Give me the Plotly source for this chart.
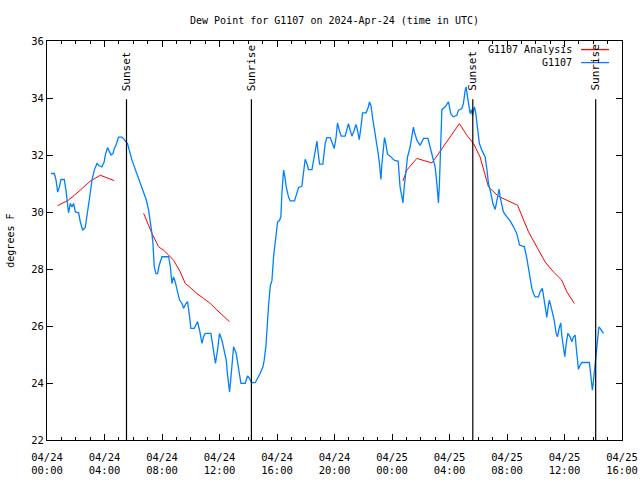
import pandas as pd
import plotly.graph_objects as go

base = pd.Timestamp("2024-04-24 00:00")

obs_hours = [0.28, 0.51, 0.63, 0.74, 0.86, 0.97, 1.20, 1.32, 1.50, 1.62, 1.74, 1.85, 1.97, 2.20, 2.32, 2.48, 2.66, 2.78, 2.94, 3.13,
             3.29, 3.48, 3.59, 3.82, 3.98, 4.05, 4.21, 4.35, 4.45, 4.59, 4.68, 4.82, 4.91, 4.98, 5.22, 5.38, 5.60, 5.91, 6.26, 6.61,
             6.91, 7.07, 7.18, 7.30, 7.37, 7.46, 7.58, 7.69, 7.81, 8.00, 8.46, 8.58, 8.69, 8.80, 8.92, 9.04, 9.22, 9.39, 9.50, 9.67,
             9.78, 9.92, 10.01, 10.24, 10.38, 10.47, 10.61, 10.78, 10.89, 11.01, 11.40, 11.54, 11.63, 11.72, 11.86, 12.00, 12.17, 12.33, 12.47, 12.56,
             12.70, 12.80, 12.89, 12.98, 13.16, 13.28, 13.39, 13.49, 13.79, 13.95, 14.09, 14.23, 14.49, 14.65, 14.83, 15.02, 15.11, 15.23, 15.30, 15.41,
             15.53, 15.65, 15.76, 15.88, 15.97, 16.04, 16.18, 16.27, 16.34, 16.46, 16.55, 16.64, 16.80, 16.92, 17.22, 17.34, 17.50, 17.73, 17.84, 17.96,
             18.08, 18.19, 18.43, 18.54, 18.66, 18.78, 18.85, 18.96, 19.19, 19.35, 19.47, 19.70, 19.86, 19.98, 20.10, 20.21, 20.33, 20.47, 20.74, 20.86,
             20.97, 21.09, 21.21, 21.37, 21.49, 21.60, 21.72, 21.84, 21.95, 22.20, 22.36, 22.43, 22.53, 22.67, 22.78, 22.90, 23.02, 23.13, 23.23, 23.30,
             23.37, 23.48, 23.57, 23.69, 23.87, 24.15, 24.43, 24.52, 24.56, 24.69, 24.76, 24.85, 24.97, 25.08, 25.26, 25.38, 25.49, 25.56, 25.73, 25.96,
             26.08, 26.19, 26.50, 26.66, 26.84, 27.00, 27.12, 27.19, 27.23, 27.30, 27.40, 27.47, 27.70, 27.86, 27.93, 28.09, 28.27, 28.51, 28.62, 28.86,
             28.97, 29.09, 29.16, 29.25, 29.32, 29.44, 29.53, 29.60, 29.67, 29.74, 29.83, 29.95, 30.08, 30.25, 30.48, 30.60, 30.71, 30.88, 31.02, 31.18,
             31.34, 31.45, 31.52, 31.64, 31.75, 31.99, 32.22, 32.45, 32.68, 32.87, 33.21, 33.38, 33.49, 33.61, 33.73, 33.84, 33.96, 34.19, 34.30, 34.46,
             34.58, 34.70, 34.77, 34.88, 34.95, 35.12, 35.28, 35.42, 35.51, 35.63, 35.74, 35.81, 35.92, 36.02, 36.11, 36.23, 36.39, 36.51, 36.62, 36.74,
             36.81, 36.90, 36.97, 37.09, 37.21, 37.73, 37.83, 37.94, 38.01, 38.11, 38.20, 38.29, 38.39, 38.48, 38.60, 38.71]

obs_values = [31.35, 31.35, 31.12, 30.70, 30.88, 31.14, 31.14, 30.76, 29.97, 30.30, 30.18, 30.30, 30.00, 29.97, 29.65, 29.36, 29.46, 29.83, 30.42, 31.12,
              31.47, 31.70, 31.64, 31.58, 31.76, 31.99, 32.26, 32.11, 32.00, 32.05, 32.23, 32.38, 32.52, 32.63, 32.63, 32.52, 32.40, 31.82, 31.35, 30.88,
              30.42, 30.06, 29.70, 29.25, 28.90, 28.08, 27.84, 27.84, 28.14, 28.43, 28.43, 28.08, 27.49, 27.72, 27.55, 27.26, 26.91, 26.79, 26.62, 26.79,
              26.85, 26.32, 25.92, 25.92, 26.09, 26.15, 25.86, 25.39, 25.62, 25.74, 25.74, 25.27, 24.92, 24.69, 25.15, 25.74, 25.50, 25.10, 24.80, 24.28,
              23.69, 24.22, 24.80, 25.27, 25.04, 24.69, 24.22, 23.99, 23.99, 24.25, 24.16, 24.01, 24.01, 24.16, 24.34, 24.57, 24.80, 25.30, 25.97, 26.70,
              27.40, 27.60, 28.43, 28.90, 29.36, 29.65, 29.71, 29.83, 30.65, 31.47, 31.23, 30.88, 30.53, 30.39, 30.39, 30.59, 30.86, 30.90, 31.35, 31.85,
              31.70, 31.49, 31.49, 31.82, 32.17, 32.49, 32.14, 31.68, 31.68, 32.40, 32.61, 32.61, 32.40, 32.23, 32.58, 33.13, 32.87, 32.66, 32.66, 32.87,
              33.10, 32.87, 32.66, 32.87, 33.07, 32.87, 32.54, 32.98, 33.48, 33.48, 33.69, 33.86, 33.75, 33.24, 32.93, 32.58, 32.11, 31.70, 31.14, 31.70,
              32.11, 32.61, 32.40, 32.03, 31.96, 31.82, 31.78, 31.23, 30.88, 30.53, 30.32, 30.88, 31.58, 31.93, 32.28, 32.69, 32.98, 32.81, 32.52, 32.34,
              32.46, 32.58, 32.58, 32.28, 31.93, 31.58, 31.00, 30.53, 30.32, 31.00, 32.98, 33.59, 33.69, 33.81, 33.86, 33.45, 33.34, 33.39, 33.57, 33.63,
              33.81, 34.27, 34.39, 34.05, 33.81, 33.45, 33.59, 33.39, 33.57, 33.69, 33.45, 32.87, 32.40, 32.17, 31.93, 31.50, 31.00, 30.65, 30.30, 30.09,
              30.53, 30.80, 30.53, 30.20, 30.00, 29.83, 29.69, 29.48, 29.25, 28.84, 28.78, 28.37, 28.02, 27.61, 27.32, 27.14, 27.02, 27.02, 27.20, 27.32,
              26.91, 26.44, 26.30, 26.73, 26.91, 26.56, 26.21, 25.74, 25.62, 25.92, 26.11, 25.68, 25.27, 24.92, 25.33, 25.74, 25.62, 25.45, 25.62, 25.68,
              25.27, 24.92, 24.48, 24.63, 24.72, 24.72, 24.28, 23.75, 24.04, 24.51, 25.15, 25.50, 25.97, 25.92, 25.80, 25.74]

ana_hours = [0.74, 1.50, 2.30, 3.00, 3.71, 4.68,
             5.70,
             6.72, 7.30, 7.76, 8.11, 8.46, 8.80, 9.27, 9.62, 9.97, 10.43, 10.89, 11.36, 11.82, 12.70,
             18.00,
             24.76, 25.03, 25.73, 26.31, 26.77, 27.00, 27.82, 28.69, 29.21, 29.67, 30.13, 30.71, 31.40, 32.73,
             33.50, 33.96, 34.65, 35.23, 35.81, 36.16, 36.69]
ana_values = [30.22, 30.42, 30.76, 31.08, 31.29, 31.10,
              None,
              29.95, 29.25, 28.78, 28.66, 28.49, 28.31, 27.90, 27.49, 27.35, 27.14, 26.97, 26.79, 26.56, 26.15,
              None,
              31.09, 31.47, 31.88, 31.79, 31.72, 31.88, 32.46, 33.10, 32.69, 32.40, 31.93, 30.88, 30.55, 30.24,
              29.30, 28.90, 28.25, 27.90, 27.61, 27.20, 26.79]

event_labels = ["Sunset", "Sunrise", "Sunset", "Sunrise"]
event_hours = [5.53, 14.22, 29.62, 38.17]

legend_names = ["G1107 Analysis", "G1107"]
legend_colors = ["#ff0000", "#0080ff"]

x_start = base
x_end = base + pd.Timedelta(hours=40)


def to_time(hours):
    return [base + pd.Timedelta(hours=h) for h in hours]


FONT = "DejaVu Sans Mono"
FS = 10

fig = go.Figure()
fig.add_trace(go.Scatter(x=to_time(ana_hours), y=ana_values, mode="lines",
                         line=dict(color=legend_colors[0], width=1), connectgaps=False,
                         name=legend_names[0], showlegend=False))
fig.add_trace(go.Scatter(x=to_time(obs_hours), y=obs_values, mode="lines",
                         line=dict(color=legend_colors[1], width=1.3),
                         name=legend_names[1], showlegend=False))

line_top = 0.854
for lab, h in zip(event_labels, event_hours):
    t = base + pd.Timedelta(hours=h)
    fig.add_shape(type="line", xref="x", yref="paper", x0=t, x1=t, y0=0, y1=line_top,
                  line=dict(color="black", width=1.2))
    fig.add_annotation(x=t, y=line_top + 0.016, xref="x", yref="paper", text=lab,
                       textangle=-90, showarrow=False, xanchor="center", yanchor="bottom",
                       font=dict(family=FONT, size=FS + 1, color="black"))

# legend drawn gnuplot-style: text then sample line
leg_y = [0.9785, 0.9459]
for name, col, ly in zip(legend_names, legend_colors, leg_y):
    fig.add_annotation(x=0.9166, y=ly, xref="paper", yref="paper", text=name, showarrow=False,
                       xanchor="right", yanchor="middle", font=dict(family=FONT, size=FS, color="black"))
    fig.add_shape(type="line", xref="paper", yref="paper", x0=0.9288, x1=0.9774, y0=ly, y1=ly,
                  line=dict(color=col, width=1.3))

fig.add_annotation(x=-0.064, y=0.5, xref="paper", yref="paper", text="degrees F", textangle=-90,
                   showarrow=False, xanchor="center", yanchor="middle",
                   font=dict(family=FONT, size=FS, color="black"))

fig.update_layout(
    width=640, height=480,
    margin=dict(l=47, r=18, t=41, b=40),
    paper_bgcolor="white", plot_bgcolor="white",
    font=dict(family=FONT, size=FS, color="black"),
    title=dict(text="Dew Point for G1107 on 2024-Apr-24 (time in UTC)", x=0.5, xref="paper",
               y=1 - 20 / 480, yref="container", yanchor="middle", xanchor="center",
               font=dict(family=FONT, size=FS, color="black")),
    showlegend=False,
)
fig.update_xaxes(range=[x_start, x_end], type="date", tick0=x_start, dtick=4 * 3600000,
                 tickformat="%m/%d<br>%H:%M", ticks="inside", ticklen=6, tickcolor="black",
                 showline=True, linecolor="black", linewidth=1, mirror="ticks", showgrid=False,
                 zeroline=False, automargin=False, ticklabelstandoff=7,
                 minor=dict(dtick=3600000, ticks="inside", ticklen=3, tickcolor="black", showgrid=False),
                 tickfont=dict(family=FONT, size=FS + 0.5, color="black"))
fig.update_yaxes(range=[22, 36], dtick=2, tick0=22, ticks="inside", ticklen=6, tickcolor="black",
                 showline=True, linecolor="black", linewidth=1, mirror="ticks", showgrid=False,
                 zeroline=False, automargin=False,
                 tickfont=dict(family=FONT, size=FS + 0.5, color="black"))

fig.write_html("out.html")
